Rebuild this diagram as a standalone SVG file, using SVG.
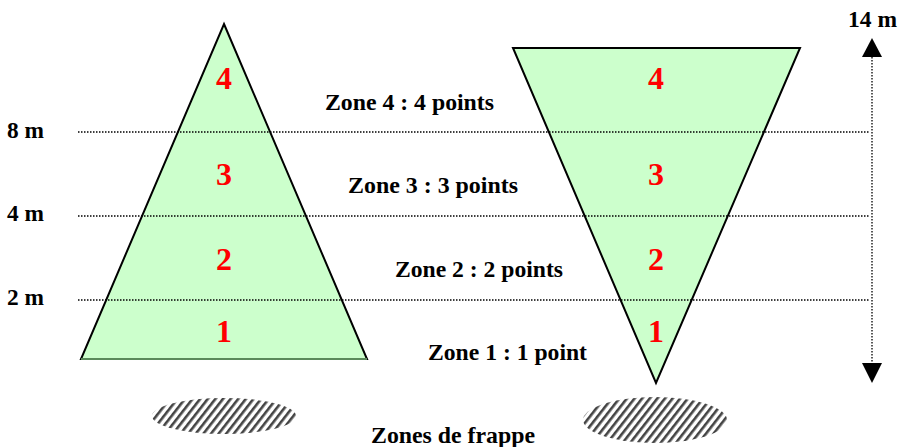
<svg xmlns="http://www.w3.org/2000/svg" width="898" height="447" viewBox="0 0 898 447">
<defs>
<pattern id="hatch" width="6" height="6" patternUnits="userSpaceOnUse" patternTransform="rotate(38)">
<rect x="0" y="0" width="2.6" height="6" fill="#444"/>
</pattern>
<style>
.lbl{font-family:"Liberation Serif","Times New Roman",serif;font-weight:bold;font-size:24px;fill:#000}
.num{font-family:"Liberation Serif","Times New Roman",serif;font-weight:bold;font-size:32px;fill:#ff0000;text-anchor:middle}
.tri{fill:#ccffcc;stroke:#000;stroke-width:2;stroke-linejoin:miter}
.dot{stroke:#000;stroke-width:1.3;stroke-dasharray:1.5 1.5;fill:none}
</style>
</defs>
<g id="ellipses">
<ellipse id="frappe-left" cx="224" cy="416" rx="72" ry="18" fill="url(#hatch)"/>
<ellipse id="frappe-right" cx="655" cy="420" rx="72" ry="23" fill="url(#hatch)"/>
</g>
<g id="triangle-left">
<path class="tri" d="M224 24 L367 359 L81 359 Z"/>
<line x1="81" y1="359" x2="367" y2="359" stroke="#5a8a5a" stroke-width="2"/>
</g>
<g id="triangle-right">
<path class="tri" d="M513 48 L800 48 L656 383 Z"/>
</g>
<g id="connectors">
<line class="dot" x1="78" y1="132" x2="870" y2="132"/>
<line class="dot" x1="78" y1="216" x2="870" y2="216"/>
<line class="dot" x1="78" y1="300" x2="870" y2="300"/>
<line class="dot" x1="872" y1="57" x2="872" y2="363"/>
<polygon points="872,38 862,57 882,57" fill="#000"/>
<polygon points="862,363 882,363 872,383" fill="#000"/>
</g>
<g id="numbers">
<text class="num" x="224" y="89">4</text>
<text class="num" x="224" y="185">3</text>
<text class="num" x="224" y="270">2</text>
<text class="num" x="224" y="342">1</text>
<text class="num" x="656" y="89">4</text>
<text class="num" x="656" y="185">3</text>
<text class="num" x="656" y="270">2</text>
<text class="num" x="656" y="342">1</text>
</g>
<g id="labels">
<text class="lbl" x="7" y="138" textLength="37" lengthAdjust="spacingAndGlyphs">8 m</text>
<text class="lbl" x="7" y="221" textLength="37" lengthAdjust="spacingAndGlyphs">4 m</text>
<text class="lbl" x="7" y="305" textLength="37" lengthAdjust="spacingAndGlyphs">2 m</text>
<text class="lbl" x="848" y="27" textLength="49" lengthAdjust="spacingAndGlyphs">14 m</text>
<text class="lbl" x="325" y="110" textLength="169" lengthAdjust="spacingAndGlyphs">Zone 4 : 4 points</text>
<text class="lbl" x="348" y="193" textLength="170" lengthAdjust="spacingAndGlyphs">Zone 3 : 3 points</text>
<text class="lbl" x="395" y="277" textLength="168" lengthAdjust="spacingAndGlyphs">Zone 2 : 2 points</text>
<text class="lbl" x="428" y="360" textLength="159" lengthAdjust="spacingAndGlyphs">Zone 1 : 1 point</text>
<text class="lbl" x="371" y="443" textLength="164" lengthAdjust="spacingAndGlyphs">Zones de frappe</text>
</g>
</svg>
